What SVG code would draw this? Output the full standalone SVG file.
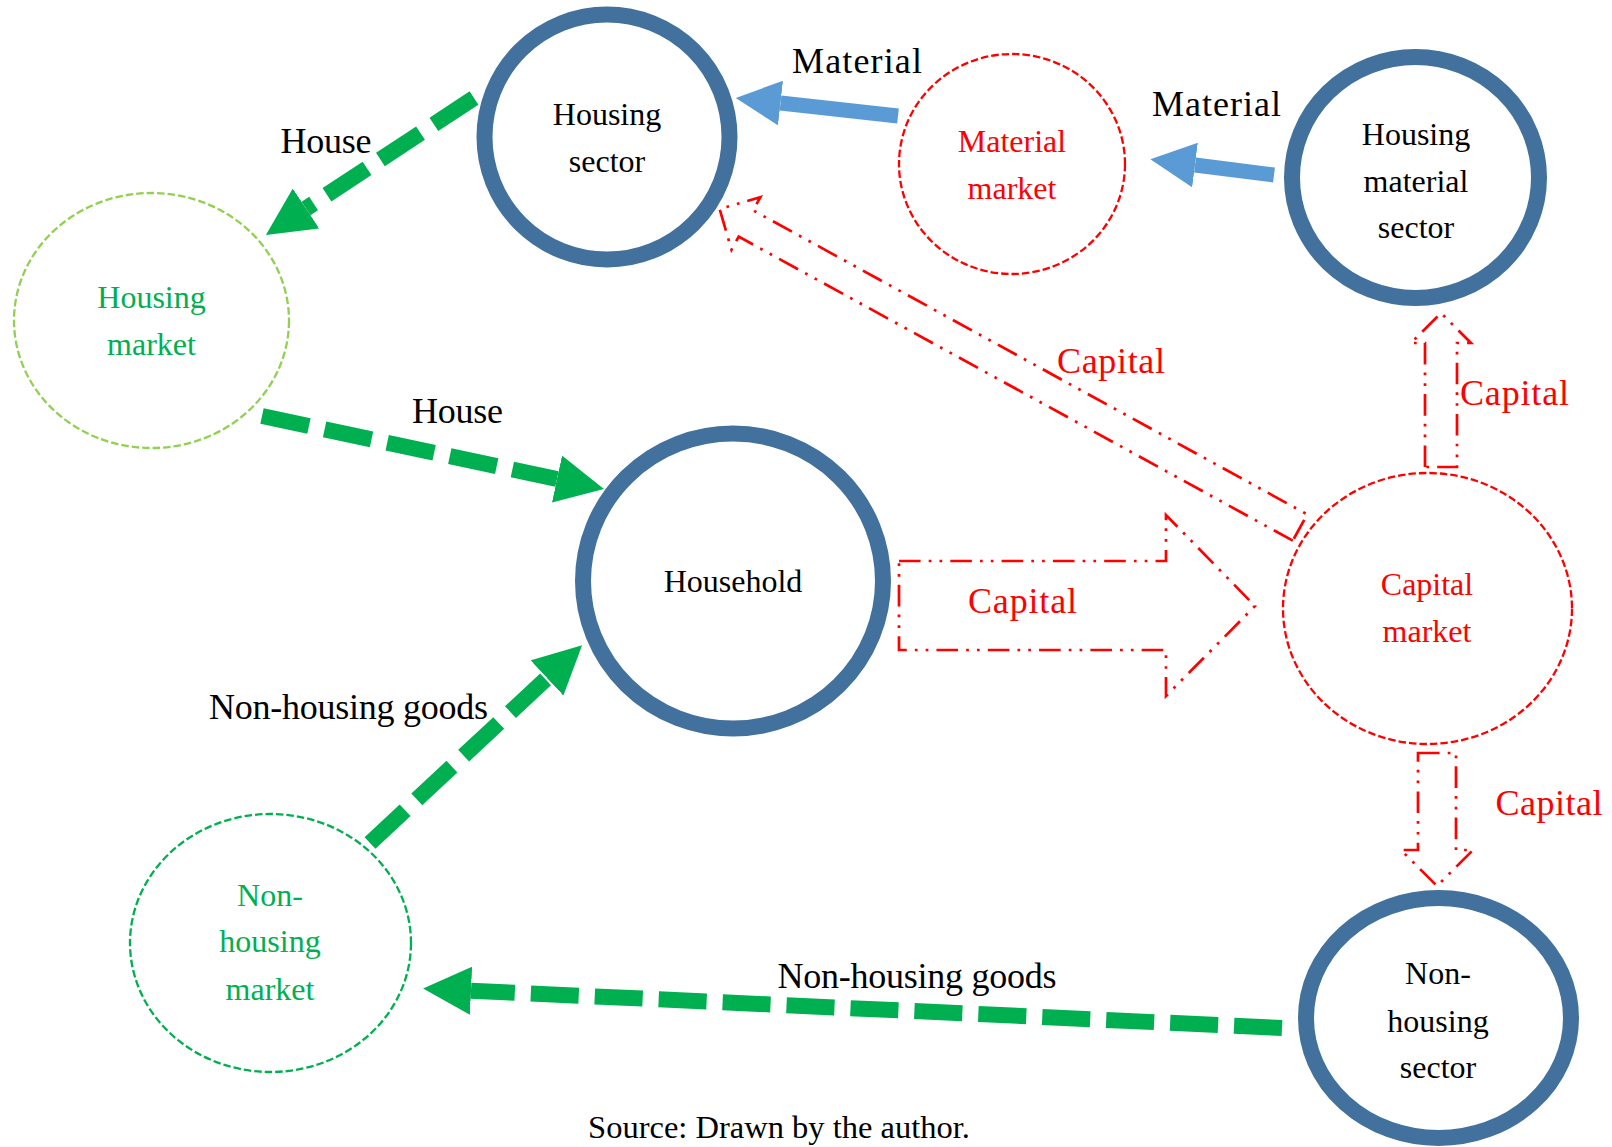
<svg xmlns="http://www.w3.org/2000/svg" width="1612" height="1147" viewBox="0 0 1612 1147">
<style>
text{font-family:"Liberation Serif","Times New Roman",serif;text-anchor:middle}
.nt{font-size:32px;fill:#000}
.lt{font-size:36px;fill:#000}
.red{fill:#FF0000}
.grn{fill:#00B050}
.sector{fill:none;stroke:#41719C;stroke-width:16}
.mk{fill:none;stroke-width:2.3;stroke-dasharray:7.5 3}
.gflow{fill:none;stroke:#00B050;stroke-width:16;stroke-dasharray:48 16;marker-end:url(#ga)}
.bflow{fill:none;stroke:#5B9BD5;stroke-width:15;marker-end:url(#ba)}
.cap{fill:none;stroke:#FF0000;stroke-width:2.7;stroke-dasharray:21.6 8.1 2.7 8.1 2.7 8.1}
</style>
<defs>
<marker id="ga" viewBox="0 0 3 3" refX="0" refY="1.5" markerWidth="3" markerHeight="3" markerUnits="strokeWidth" orient="auto">
<path d="M0,0 L3,1.5 L0,3 z" fill="#00B050"/>
</marker>
<marker id="ba" viewBox="0 0 3 3" refX="0" refY="1.5" markerWidth="3" markerHeight="3" markerUnits="strokeWidth" orient="auto">
<path d="M0,0 L3,1.5 L0,3 z" fill="#5B9BD5"/>
</marker>
</defs>

<g id="connectors">
<path class="gflow" d="M474,98 L306,208.5"/>
<path class="gflow" d="M262,416 L557,479"/>
<path class="gflow" d="M370,843 L547,678"/>
<path class="gflow" d="M1282,1028 L471,990.7"/>
<path class="bflow" d="M898,116 L780.5,103"/>
<path class="bflow" d="M1274,175 L1195,165"/>
<polygon class="cap" points="899,561 1166,561 1166,515 1255,606 1166,696 1166,650 899,650"/>
<polygon class="cap" points="1425,467 1425,343 1411,343 1441,313 1471,343 1457,343 1457,467"/>
<polygon class="cap" points="1418,753 1456,753 1456,850 1473,850 1437,886 1401,850 1418,850"/>
<polygon class="cap" transform="translate(1300,527.5) rotate(208.75)" points="0,-15 632,-15 632,-30 662,0 632,30 632,15 0,15"/>
<text class="lt" x="326" y="153" textLength="91">House</text>
<text class="lt" x="457.5" y="423" textLength="91">House</text>
<text class="lt" x="857" y="73" textLength="130">Material</text>
<text class="lt" x="1216.5" y="116" textLength="129">Material</text>
<text class="lt red" x="1111" y="373" textLength="108">Capital</text>
<text class="lt red" x="1514.5" y="405" textLength="109">Capital</text>
<text class="lt red" x="1022.5" y="613" textLength="109">Capital</text>
<text class="lt red" x="1549" y="815" textLength="107">Capital</text>
<text class="lt" x="348.5" y="719" textLength="279">Non-housing goods</text>
<text class="lt" x="917" y="988" textLength="279">Non-housing goods</text>
</g>

<g id="housing-sector">
<circle class="sector" cx="607" cy="137" r="122.5"/>
<text class="nt" x="607" y="125">Housing</text>
<text class="nt" x="607" y="172">sector</text>
</g>

<g id="housing-market">
<ellipse class="mk" stroke="#92D050" cx="151.5" cy="320.5" rx="137.5" ry="127.5"/>
<text class="nt grn" x="151.5" y="308">Housing</text>
<text class="nt grn" x="151.5" y="355">market</text>
</g>

<g id="material-market">
<ellipse class="mk" stroke="#FF0000" cx="1012" cy="164" rx="113" ry="110"/>
<text class="nt red" x="1012" y="152">Material</text>
<text class="nt red" x="1012" y="199">market</text>
</g>

<g id="housing-material-sector">
<ellipse class="sector" cx="1415.5" cy="177.5" rx="123.5" ry="120.5"/>
<text class="nt" x="1416" y="145">Housing</text>
<text class="nt" x="1416" y="192">material</text>
<text class="nt" x="1416" y="238">sector</text>
</g>

<g id="household">
<ellipse class="sector" cx="733" cy="581" rx="150" ry="147.5"/>
<text class="nt" x="733" y="592">Household</text>
</g>

<g id="capital-market">
<ellipse class="mk" stroke="#FF0000" cx="1427.5" cy="608.5" rx="144.5" ry="135.5"/>
<text class="nt red" x="1427" y="595">Capital</text>
<text class="nt red" x="1427" y="642">market</text>
</g>

<g id="non-housing-market">
<ellipse class="mk" stroke="#00B050" stroke-width="2" cx="270.5" cy="943" rx="140.5" ry="129"/>
<text class="nt grn" x="270" y="906">Non-</text>
<text class="nt grn" x="270" y="952">housing</text>
<text class="nt grn" x="270" y="1000">market</text>
</g>

<g id="non-housing-sector">
<ellipse class="sector" cx="1438.5" cy="1018" rx="132.5" ry="120"/>
<text class="nt" x="1438" y="984">Non-</text>
<text class="nt" x="1438" y="1032">housing</text>
<text class="nt" x="1438" y="1078">sector</text>
</g>

<text id="source" class="nt" x="779" y="1138" style="font-size:32.5px">Source: Drawn by the author.</text>
</svg>
